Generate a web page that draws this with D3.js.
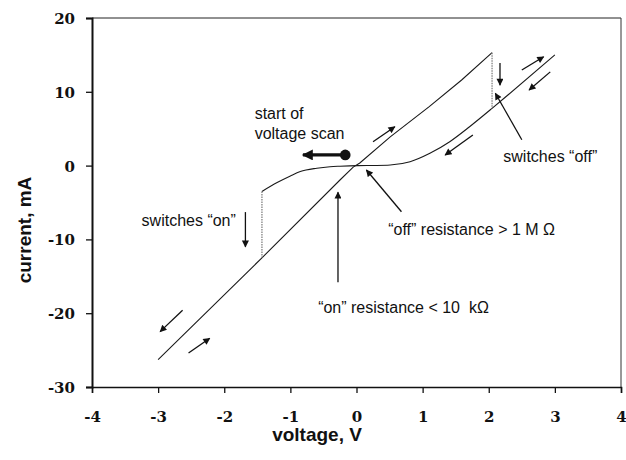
<!DOCTYPE html>
<html lang="en">
<head>
<meta charset="UTF-8">
<title>I-V switching curve</title>
<script src="https://d3js.org/d3.v7.min.js"></script>
<style>
    body { margin: 0; background: #fff; }
    .axis-title { font-family: "Liberation Sans", Arial, sans-serif; font-weight: bold; font-size: 19px; fill: #111; }
    .note { font-family: "Liberation Sans", Arial, sans-serif; font-size: 16px; fill: #111; }
</style>
</head>
<body>
<svg id="chart" width="626" height="460"></svg>
<script>
// ticks
const xTicks = [-4, -3, -2, -1, 0, 1, 2, 3, 4];
const yTicks = [-30, -20, -10, 0, 10, 20];

// "on" branch (low resistance), voltage V / current mA
const onV = [-3.0, -1.43, -0.25, -0.05, 0.05, 0.51, 1.1, 1.59, 2.05];
const onI = [-26.3, -12.5, -1.95, -0.2, 0.35, 3.9, 8.0, 11.6, 15.3];

// "off" branch (high resistance)
const offV = [-1.43, -1.2, -1.0, -0.85, -0.6, -0.4, -0.25, 0.02, 0.3, 0.51, 0.81, 1.11, 1.41, 1.71, 2.05, 2.29, 3.0];
const offI = [-3.5, -2.3, -1.4, -0.8, -0.35, -0.15, -0.08, 0, 0.02, 0.08, 0.53, 1.67, 3.24, 5.27, 7.76, 9.57, 15.0];

// switching jumps: [V, I from, I to]
const jumps = [[-1.43, -3.5, -12.5], [2.05, 15.3, 7.76]];

// direction arrows: [V1, I1, V2, I2]
const arrows = [
    [-1.68, -6.3, -1.68, -11.0],
    [2.5, 3.5, 2.10, 9.8],
    [2.17, 13.9, 2.17, 10.9],
    [2.5, 12.95, 2.83, 14.75],
    [2.93, 12.7, 2.61, 10.25],
    [1.76, 4.15, 1.34, 1.44],
    [0.25, 3.24, 0.58, 5.27],
    [0.68, -6.25, 0.15, -0.6],
    [-0.28, -15.8, -0.28, -3.6],
    [-2.63, -19.6, -2.97, -22.5],
    [-2.54, -25.4, -2.22, -23.4]
];

const startPoint = [-0.17, 1.45];
const startTip = [-0.81, 1.45];

const notes = [
    { v: -1.54, i: 6.27, t: "start of" },
    { v: -1.54, i: 3.6, t: "voltage scan" },
    { v: -3.25, i: -8.18, t: "switches \u201con\u201d" },
    { v: 2.22, i: 0.53, t: "switches \u201coff\u201d" },
    { v: 0.48, i: -9.4, t: "\u201coff\u201d resistance > 1 M \u03a9" },
    { v: -0.58, i: -20.0, t: "\u201con\u201d resistance < 10 \u00a0k\u03a9" }
];

const svg = d3.select("#chart");
const plotLeft = 92, plotRight = 621, plotTop = 18, plotBottom = 387;

const x = d3.scaleLinear().domain([-4, 4]).range([plotLeft, plotRight]);
const y = d3.scaleLinear().domain([-30, 20]).range([plotBottom, plotTop]);

// markers
const defs = svg.append("defs");
defs.append("marker")
    .attr("id", "head")
    .attr("viewBox", "0 0 10 10")
    .attr("refX", 9).attr("refY", 5)
    .attr("markerWidth", 8).attr("markerHeight", 7)
    .attr("markerUnits", "userSpaceOnUse")
    .attr("orient", "auto")
    .append("path").attr("d", "M0,0 L10,5 L0,10 Z").attr("fill", "#111");
defs.append("marker")
    .attr("id", "bighead")
    .attr("viewBox", "0 0 10 10")
    .attr("refX", 9).attr("refY", 5)
    .attr("markerWidth", 13).attr("markerHeight", 11)
    .attr("markerUnits", "userSpaceOnUse")
    .attr("orient", "auto")
    .append("path").attr("d", "M0,0 L10,5 L0,10 Z").attr("fill", "#111");

// frame (top / right)
svg.append("line").attr("x1", plotLeft).attr("x2", plotRight).attr("y1", plotTop).attr("y2", plotTop)
    .attr("stroke", "#222").attr("stroke-width", 1);
svg.append("line").attr("x1", plotRight).attr("x2", plotRight).attr("y1", plotTop).attr("y2", plotBottom)
    .attr("stroke", "#333").attr("stroke-width", 1);

const fmt = d => String(d);

// axes
const xAxis = svg.append("g")
    .attr("transform", `translate(0,${plotBottom})`)
    .call(d3.axisBottom(x).tickValues(xTicks).tickSize(6).tickPadding(18).tickFormat(fmt));
xAxis.select(".domain").attr("stroke", "#111").attr("stroke-width", 1.5);
xAxis.selectAll(".tick line").attr("stroke", "#111").attr("stroke-width", 1.3);

const yAxis = svg.append("g")
    .attr("transform", `translate(${plotLeft},0)`)
    .call(d3.axisLeft(y).tickValues(yTicks).tickSize(6).tickPadding(11).tickFormat(fmt));
yAxis.select(".domain").attr("stroke", "#111").attr("stroke-width", 2);
yAxis.selectAll(".tick line").attr("stroke", "#111").attr("stroke-width", 1.3);
yAxis.selectAll(".tick text").attr("dy", "0.36em");

svg.selectAll(".tick text")
    .style("font-family", "'DejaVu Serif', 'Liberation Serif', serif")
    .style("font-weight", "bold")
    .style("font-size", "15px")
    .style("fill", "#111");

// axis titles
svg.append("text").attr("class", "axis-title")
    .attr("x", 317).attr("y", 441)
    .attr("text-anchor", "middle")
    .text("voltage, V");
svg.append("text").attr("class", "axis-title")
    .attr("transform", "translate(31,230) rotate(-90)")
    .attr("text-anchor", "middle")
    .text("current, mA");

// curves
const line = d3.line().x(d => x(d[0])).y(d => y(d[1]));
svg.append("path")
    .datum(onV.map((v, k) => [v, onI[k]]))
    .attr("d", line)
    .attr("fill", "none").attr("stroke", "#1a1a1a").attr("stroke-width", 1.1);
svg.append("path")
    .datum(offV.map((v, k) => [v, offI[k]]))
    .attr("d", line.curve(d3.curveMonotoneX))
    .attr("fill", "none").attr("stroke", "#1a1a1a").attr("stroke-width", 1.1);

svg.selectAll(".jump").data(jumps).join("line")
    .attr("class", "jump")
    .attr("x1", d => x(d[0])).attr("x2", d => x(d[0]))
    .attr("y1", d => y(d[1])).attr("y2", d => y(d[2]))
    .attr("stroke", "#777").attr("stroke-width", 1.2)
    .attr("stroke-dasharray", "1.5,1");

// arrows
svg.selectAll(".arrow").data(arrows).join("line")
    .attr("class", "arrow")
    .attr("x1", d => x(d[0])).attr("y1", d => y(d[1]))
    .attr("x2", d => x(d[2])).attr("y2", d => y(d[3]))
    .attr("stroke", "#111").attr("stroke-width", 1.3)
    .attr("marker-end", "url(#head)");

// start of scan
svg.append("line")
    .attr("x1", x(startPoint[0])).attr("y1", y(startPoint[1]))
    .attr("x2", x(startTip[0])).attr("y2", y(startTip[1]))
    .attr("stroke", "#111").attr("stroke-width", 3.2)
    .attr("marker-end", "url(#bighead)");
svg.append("circle")
    .attr("cx", x(startPoint[0])).attr("cy", y(startPoint[1]))
    .attr("r", 5.3).attr("fill", "#111");

// notes
svg.selectAll(".note").data(notes).join("text")
    .attr("class", "note")
    .attr("x", d => x(d.v)).attr("y", d => y(d.i))
    .text(d => d.t);
</script>
</body>
</html>
